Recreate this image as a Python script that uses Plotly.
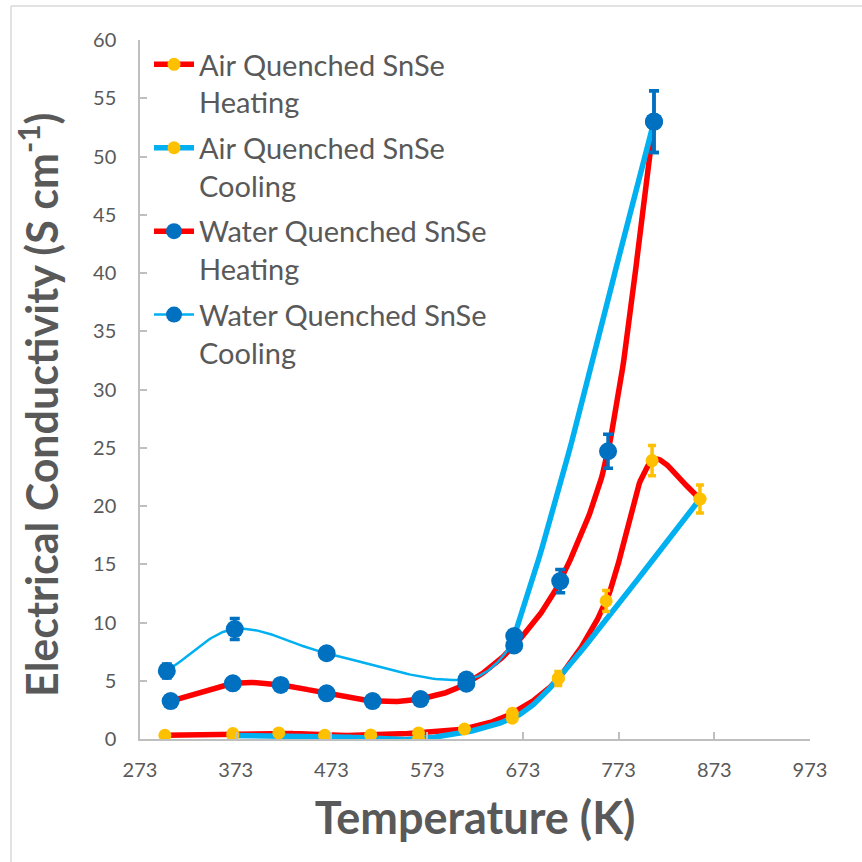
import numpy as np
import plotly.graph_objects as go

# ---- data -------------------------------------------------------------
air_heat_T = [299, 370, 418, 466, 514, 564, 612, 662, 710, 760, 808, 858]
air_heat_v = [0.32, 0.47, 0.52, 0.32, 0.34, 0.52, 0.86, 2.2, 5.2, 11.85, 23.9, 20.6]
air_heat_err = [0.1, 0.1, 0.1, 0.1, 0.1, 0.1, 0.1, 0.3, 0.6, 0.9, 1.3, 1.2]

air_cool_T = [370, 466, 564, 662, 710, 858]
air_cool_v = [0.3, 0.25, 0.02, 1.78, 5.2, 20.6]

water_heat_T = [305, 370, 420, 468, 516, 566, 614, 664, 712, 762, 810]
water_heat_v = [3.26, 4.78, 4.64, 3.92, 3.26, 3.43, 4.75, 8.03, 13.56, 24.7, 53.0]
water_heat_err = [0.2, 0.2, 0.2, 0.2, 0.2, 0.2, 0.2, 0.4, 1.0, 1.45, 2.65]

water_cool_T = [301, 372, 468, 614, 664, 810]
water_cool_v = [5.84, 9.44, 7.36, 5.1, 8.84, 53.0]
water_cool_err = [0.6, 0.9, 0.3, 0.3, 0.4, 2.65]

series_names = [
    "Air Quenched SnSe<br>Heating",
    "Air Quenched SnSe<br>Cooling",
    "Water Quenched SnSe<br>Heating",
    "Water Quenched SnSe<br>Cooling",
]

x_ticks = [273, 373, 473, 573, 673, 773, 873, 973]
y_ticks = list(range(0, 61, 5))
x_range = [273, 973]
y_range = [0, 60]

# ---- colours / styles -------------------------------------------------
RED = "#FF0000"
LBLUE = "#00B0F0"
DBLUE = "#0070C0"
YELLOW = "#FFC000"
TXT = "#595959"
AX = "#BFBFBF"
FONT = "Lato"

# plot area in pixels: x 140..810, y 40..739
L, R, T, B = 140, 810, 40, 739
W = H = 862
SX = (R - L) / (x_range[1] - x_range[0])   # px per K
SY = (B - T) / (y_range[1] - y_range[0])   # px per unit


def smooth_segments(xs, ys, n=40):
    """Chord-length scaled Bezier smoothing, computed in screen proportions."""
    P = np.column_stack([np.asarray(xs, float) * SX, np.asarray(ys, float) * SY])
    m = len(P)
    d = np.linalg.norm(np.diff(P, axis=0), axis=1)
    tang = np.zeros_like(P)
    for i in range(m):
        a = P[i - 1] if i > 0 else P[i]
        b = P[i + 1] if i < m - 1 else P[i]
        da = d[i - 1] if i > 0 else 0.0
        db = d[i] if i < m - 1 else 0.0
        tang[i] = (b - a) / (da + db)
    segs = []
    t = np.linspace(0, 1, n)[:, None]
    for i in range(m - 1):
        p1, p2 = P[i], P[i + 1]
        c1 = p1 + tang[i] * d[i] / 3.0
        c2 = p2 - tang[i + 1] * d[i] / 3.0
        seg = (1 - t) ** 3 * p1 + 3 * (1 - t) ** 2 * t * c1 + 3 * (1 - t) * t ** 2 * c2 + t ** 3 * p2
        segs.append(np.column_stack([seg[:, 0] / SX, seg[:, 1] / SY]))
    return segs


def join(segs):
    return np.vstack([s if k == 0 else s[1:] for k, s in enumerate(segs)])


fig = go.Figure()

# smoothed lines
ah = join(smooth_segments(air_heat_T, air_heat_v))
ac = join(smooth_segments(air_cool_T, air_cool_v))
wh = join(smooth_segments(water_heat_T, water_heat_v))
wc_segs = smooth_segments(water_cool_T, water_cool_v)
wc_thin = join(wc_segs[:-1])
wc_thick = wc_segs[-1]

for arr, col, w in [(ah, RED, 5.5), (ac, LBLUE, 5.5), (wh, RED, 5.5),
                    (wc_thin, LBLUE, 2.5), (wc_thick, LBLUE, 5.5)]:
    fig.add_trace(go.Scatter(x=arr[:, 0], y=arr[:, 1], mode="lines",
                             line=dict(color=col, width=w),
                             showlegend=False, hoverinfo="skip"))

# markers with error bars
fig.add_trace(go.Scatter(x=air_cool_T, y=air_cool_v, mode="markers",
                         marker=dict(color=YELLOW, size=13), showlegend=False))
fig.add_trace(go.Scatter(x=air_heat_T, y=air_heat_v, mode="markers",
                         marker=dict(color=YELLOW, size=13), showlegend=False,
                         error_y=dict(type="data", array=air_heat_err, color=YELLOW,
                                      thickness=3.5, width=4)))
fig.add_trace(go.Scatter(x=water_heat_T, y=water_heat_v, mode="markers",
                         marker=dict(color=DBLUE, size=18), showlegend=False,
                         error_y=dict(type="data", array=water_heat_err, color=DBLUE,
                                      thickness=3.5, width=5)))
fig.add_trace(go.Scatter(x=water_cool_T, y=water_cool_v, mode="markers",
                         marker=dict(color=DBLUE, size=18), showlegend=False,
                         error_y=dict(type="data", array=water_cool_err, color=DBLUE,
                                      thickness=3.5, width=5)))

# legend entries
legend_styles = [(RED, 5.5, YELLOW, 13), (LBLUE, 5.5, YELLOW, 13),
                 (RED, 5.5, DBLUE, 17), (LBLUE, 2.5, DBLUE, 17)]
for name, (lc, lw, mc, ms) in zip(series_names, legend_styles):
    fig.add_trace(go.Scatter(x=[None], y=[None], mode="lines+markers", name=name,
                             line=dict(color=lc, width=lw),
                             marker=dict(color=mc, size=ms), legendgroup=name))


def px(xp):
    return (xp - L) / (R - L)


def py(yp):
    return (B - yp) / (B - T)


fig.update_layout(
    width=W, height=H,
    margin=dict(l=L, r=W - R, t=T, b=H - B),
    paper_bgcolor="white", plot_bgcolor="white",
    font=dict(family=FONT, color=TXT),
    showlegend=True,
    legend=dict(x=px(149), y=py(39), xanchor="left", yanchor="top",
                bgcolor="rgba(0,0,0,0)", font=dict(size=29, color=TXT, family=FONT),
                valign="top", traceorder="grouped", tracegroupgap=5,
                itemwidth=40),
    xaxis=dict(range=x_range, tickvals=x_ticks, ticktext=[str(v) for v in x_ticks],
               showgrid=False, zeroline=False, showline=True, linecolor=AX, linewidth=1.5,
               ticks="inside", ticklen=7, tickcolor=AX, tickwidth=1.5,
               tickfont=dict(size=20, color=TXT, family=FONT), ticklabelstandoff=12,
               title=dict(text="<b>Temperature (K)</b>", font=dict(size=45, color=TXT, family=FONT),
                          standoff=23)),
    yaxis=dict(range=y_range, tickvals=y_ticks, showgrid=False, zeroline=False,
               showline=True, linecolor=AX, linewidth=1.5,
               ticks="inside", ticklen=7, tickcolor=AX, tickwidth=1.5,
               tickfont=dict(size=20, color=TXT, family=FONT), ticklabelstandoff=18),
    annotations=[
        dict(text="<b>Electrical Conductivity (S cm<sup>-1</sup>)</b>",
             xref="paper", yref="paper", x=px(38), y=py(405),
             xanchor="center", yanchor="middle", textangle=-90, showarrow=False,
             font=dict(size=43, color=TXT, family=FONT)),
    ],
    shapes=[
        dict(type="line", xref="paper", yref="paper", x0=px(11), x1=px(862), y0=py(6), y1=py(6),
             line=dict(color="#D9D9D9", width=1.5)),
        dict(type="line", xref="paper", yref="paper", x0=px(11), x1=px(11), y0=py(6), y1=py(862),
             line=dict(color="#D9D9D9", width=1.5)),
    ],
)

fig.write_html("out.html")
